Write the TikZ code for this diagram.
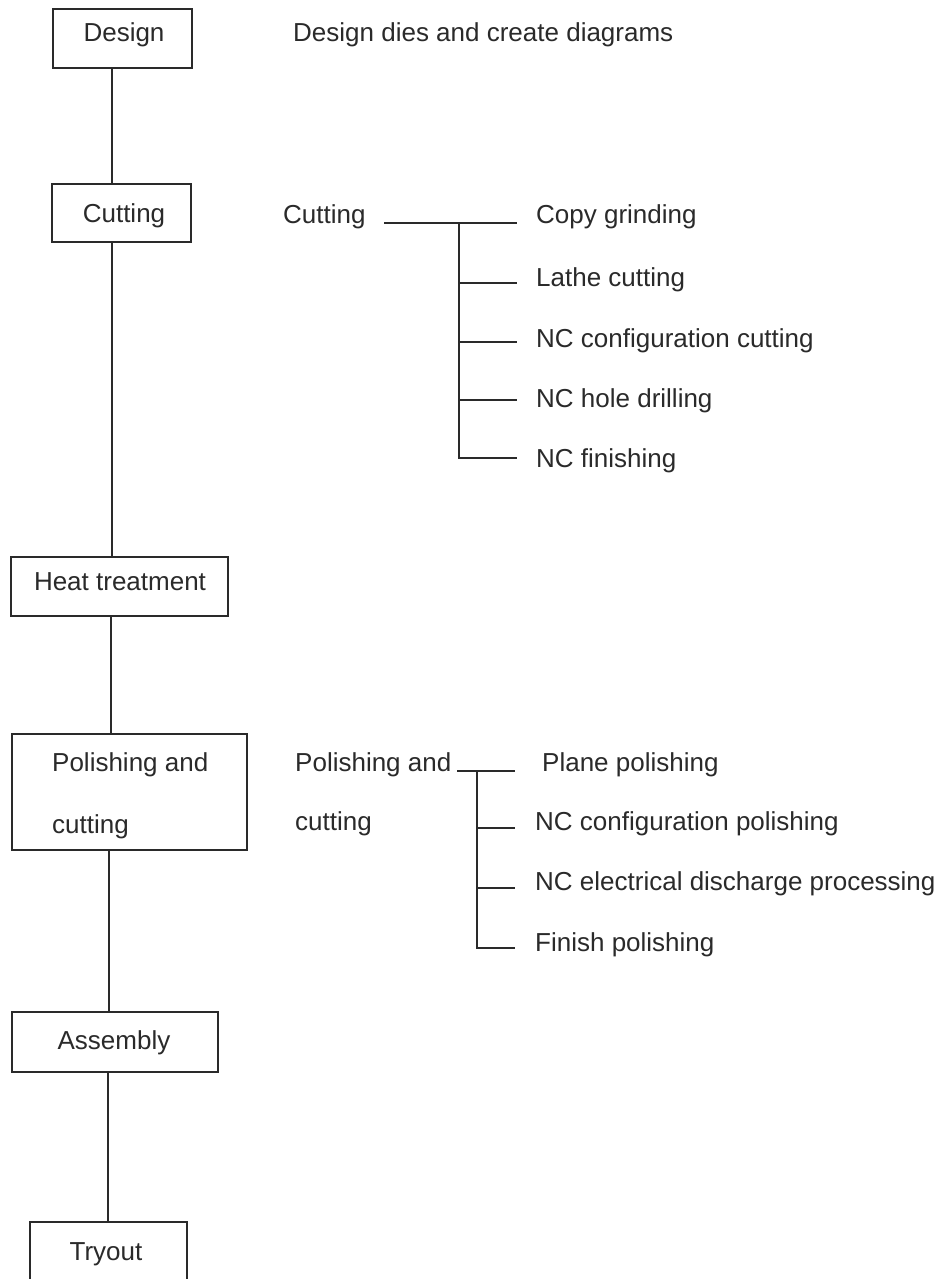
\documentclass[tikz,border=0pt]{standalone}
\usepackage{fontspec}
\setmainfont{Liberation Sans}
\definecolor{ink}{HTML}{2A2A2A}
\begin{document}
\begin{tikzpicture}[x=1pt,y=-1pt,
  box/.style={draw=ink, line width=1.8pt, inner sep=0pt},
  lbl/.style={text=ink, font=\fontsize{26}{30}\selectfont, inner sep=0pt},
  conn/.style={draw=ink, line width=1.8pt}]
\useasboundingbox[fill=white] (0,0) rectangle (938,1279);

% main flow boxes
\node[box, minimum width=139pt, minimum height=59pt] (design) at (122.5,38.5) {};
\node[box, minimum width=139pt, minimum height=58pt] (cutting) at (121.5,213) {};
\node[box, minimum width=217pt, minimum height=59pt] (heat) at (119.5,586.5) {};
\node[box, minimum width=235pt, minimum height=116pt] (polish) at (129.5,792) {};
\node[box, minimum width=206pt, minimum height=60pt] (assembly) at (115,1042) {};
\node[box, minimum width=157pt, minimum height=68pt] (tryout) at (108.5,1256) {};

% box texts
\node[lbl, anchor=base] (designT) at (124,42) {Design};
\node[lbl, anchor=base] (cuttingT) at (124,222) {Cutting};
\node[lbl, anchor=base] (heatT) at (120,590) {Heat treatment};
\node[lbl, anchor=base west] (polishT1) at (52,771) {Polishing and};
\node[lbl, anchor=base west] (polishT2) at (52,833) {cutting};
\node[lbl, anchor=base] (assemblyT) at (114,1049) {Assembly};
\node[lbl, anchor=base] (tryoutT) at (106,1260) {Tryout};

% spine connectors (vertical)
\draw[conn] ([xshift=-10.5pt]design.south) -- ([xshift=-10.5pt]design.south |- cutting.north);
\draw[conn] ([xshift=-9.5pt]cutting.south) -- ([xshift=-9.5pt]cutting.south |- heat.north);
\draw[conn] ([xshift=-8.5pt]heat.south) -- ([xshift=-8.5pt]heat.south |- polish.north);
\draw[conn] ([xshift=-20.5pt]polish.south) -- ([xshift=-20.5pt]polish.south |- assembly.north);
\draw[conn] ([xshift=-7pt]assembly.south) -- ([xshift=-7pt]assembly.south |- tryout.north);

% right-hand descriptions
\node[lbl, anchor=base west] (desc) at (293,42) {Design dies and create diagrams};

% cutting breakdown
\node[lbl, anchor=base west] (cutL) at (283,223) {Cutting};
\node[lbl, anchor=base west] (c1) at (536,223) {Copy grinding};
\node[lbl, anchor=base west] (c2) at (536,286) {Lathe cutting};
\node[lbl, anchor=base west] (c3) at (536,347) {NC configuration cutting};
\node[lbl, anchor=base west] (c4) at (536,407) {NC hole drilling};
\node[lbl, anchor=base west] (c5) at (536,467) {NC finishing};
\coordinate (ch0) at (384,223);
\coordinate (cj0) at (459,223);
\coordinate (ce1) at (517,223);
\coordinate (cj2) at (459,283);
\coordinate (ce2) at (517,283);
\coordinate (cj3) at (459,342);
\coordinate (ce3) at (517,342);
\coordinate (cj4) at (459,400);
\coordinate (ce4) at (517,400);
\coordinate (cj5) at (459,458);
\coordinate (ce5) at (517,458);
\draw[conn] (ch0) -- (ce1);
\draw[conn] (cj0) -- (cj5) -- (ce5);
\draw[conn] (cj2) -- (ce2);
\draw[conn] (cj3) -- (ce3);
\draw[conn] (cj4) -- (ce4);

% polishing breakdown
\node[lbl, anchor=base west] (pL1) at (295,771) {Polishing and};
\node[lbl, anchor=base west] (pL2) at (295,830) {cutting};
\node[lbl, anchor=base west] (p1) at (542,771) {Plane polishing};
\node[lbl, anchor=base west] (p2) at (535,830) {NC configuration polishing};
\node[lbl, anchor=base west] (p3) at (535,890) {NC electrical discharge processing};
\node[lbl, anchor=base west] (p4) at (535,951) {Finish polishing};
\coordinate (ph0) at (457,771);
\coordinate (pj0) at (477,771);
\coordinate (pe1) at (515,771);
\coordinate (pj2) at (477,828);
\coordinate (pe2) at (515,828);
\coordinate (pj3) at (477,888);
\coordinate (pe3) at (515,888);
\coordinate (pj4) at (477,948);
\coordinate (pe4) at (515,948);
\draw[conn] (ph0) -- (pe1);
\draw[conn] (pj0) -- (pj4) -- (pe4);
\draw[conn] (pj2) -- (pe2);
\draw[conn] (pj3) -- (pe3);
\end{tikzpicture}
\end{document}
